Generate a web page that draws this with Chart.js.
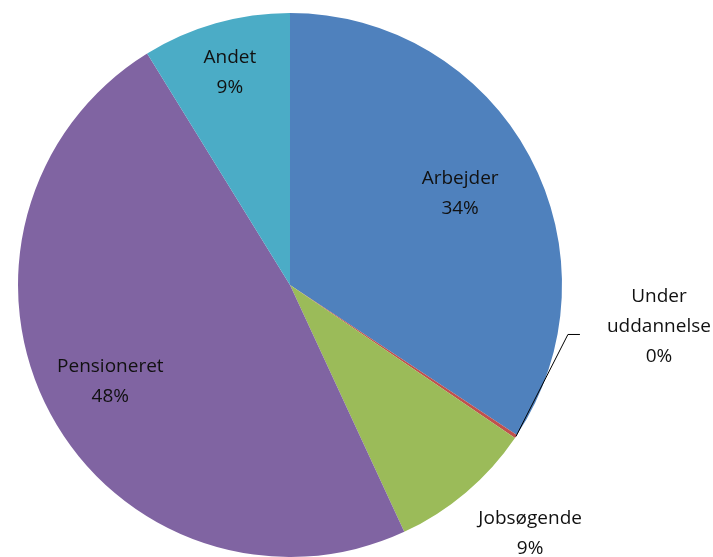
<!DOCTYPE html>
<html>
<head>
<meta charset="utf-8">
<script src="https://cdn.jsdelivr.net/npm/chart.js@4.4.1/dist/chart.umd.min.js"></script>
<style>
  html, body { margin: 0; padding: 0; background: #fff; }
  #wrap { width: 713px; height: 557px; }
</style>
</head>
<body>
<div id="wrap"><canvas id="myChart" width="713" height="557"></canvas></div>
<script>
// categories and shares (percent), clockwise from 12 o'clock
var categories = [['Arbejder'], ['Under', 'uddannelse'], ['Jobsøgende'], ['Pensioneret'], ['Andet']];
var shares = [34.3, 0.2, 8.6, 48.1, 8.8];
var pctLabels = ['34%', '0%', '9%', '48%', '9%'];
var colors = ['#4F81BD', '#C0504D', '#9BBB59', '#8064A2', '#4BACC6'];

// where each label sits: radial factor, or leader line offsets from the arc edge
var labelPlace = [
    { f: 0.71 },
    { leader: true, elbow: [52, -102], end: [64, -102], text: [143, -110] },
    { f: 1.27, rot: -0.065 },
    { f: 0.75 },
    { f: 0.81 }
];

var sliceLabels = {
    id: 'sliceLabels',
    afterDatasetsDraw: function (chart) {
        var ctx = chart.ctx;
        var meta = chart.getDatasetMeta(0);
        ctx.save();
        ctx.font = '19px "Open Sans", Lato, sans-serif';
        ctx.fillStyle = '#111';
        ctx.textAlign = 'center';
        ctx.textBaseline = 'middle';
        meta.data.forEach(function (arc, i) {
            var p = labelPlace[i];
            var mid = (arc.startAngle + arc.endAngle) / 2 + (p.rot || 0);
            var lines = categories[i].concat([pctLabels[i]]);
            var cx, cy;
            if (p.leader) {
                var ex = arc.x + Math.cos(mid) * arc.outerRadius;
                var ey = arc.y + Math.sin(mid) * arc.outerRadius;
                ctx.strokeStyle = '#000';
                ctx.lineWidth = 1;
                ctx.beginPath();
                ctx.moveTo(ex, ey);
                ctx.lineTo(ex + p.elbow[0], ey + p.elbow[1]);
                ctx.lineTo(ex + p.end[0], ey + p.end[1]);
                ctx.stroke();
                cx = ex + p.text[0];
                cy = ey + p.text[1];
            } else {
                cx = arc.x + Math.cos(mid) * arc.outerRadius * p.f;
                cy = arc.y + Math.sin(mid) * arc.outerRadius * p.f;
            }
            var lh = 30;
            var y0 = cy - (lines.length - 1) * lh / 2;
            lines.forEach(function (t, k) {
                ctx.fillText(t, cx, y0 + k * lh);
            });
        });
        ctx.restore();
    }
};

var ctx = document.getElementById('myChart').getContext('2d');
var chart = new Chart(ctx, {
    type: 'pie',
    data: {
        labels: categories.map(function (c) { return c.join(' '); }),
        datasets: [{
            data: shares,
            backgroundColor: colors,
            borderWidth: 0
        }]
    },
    options: {
        responsive: false,
        animation: false,
        layout: { padding: { left: 17, right: 150, top: 13, bottom: 0 } },
        plugins: {
            legend: { display: false },
            tooltip: { enabled: false }
        }
    },
    plugins: [sliceLabels]
});
</script>
</body>
</html>
